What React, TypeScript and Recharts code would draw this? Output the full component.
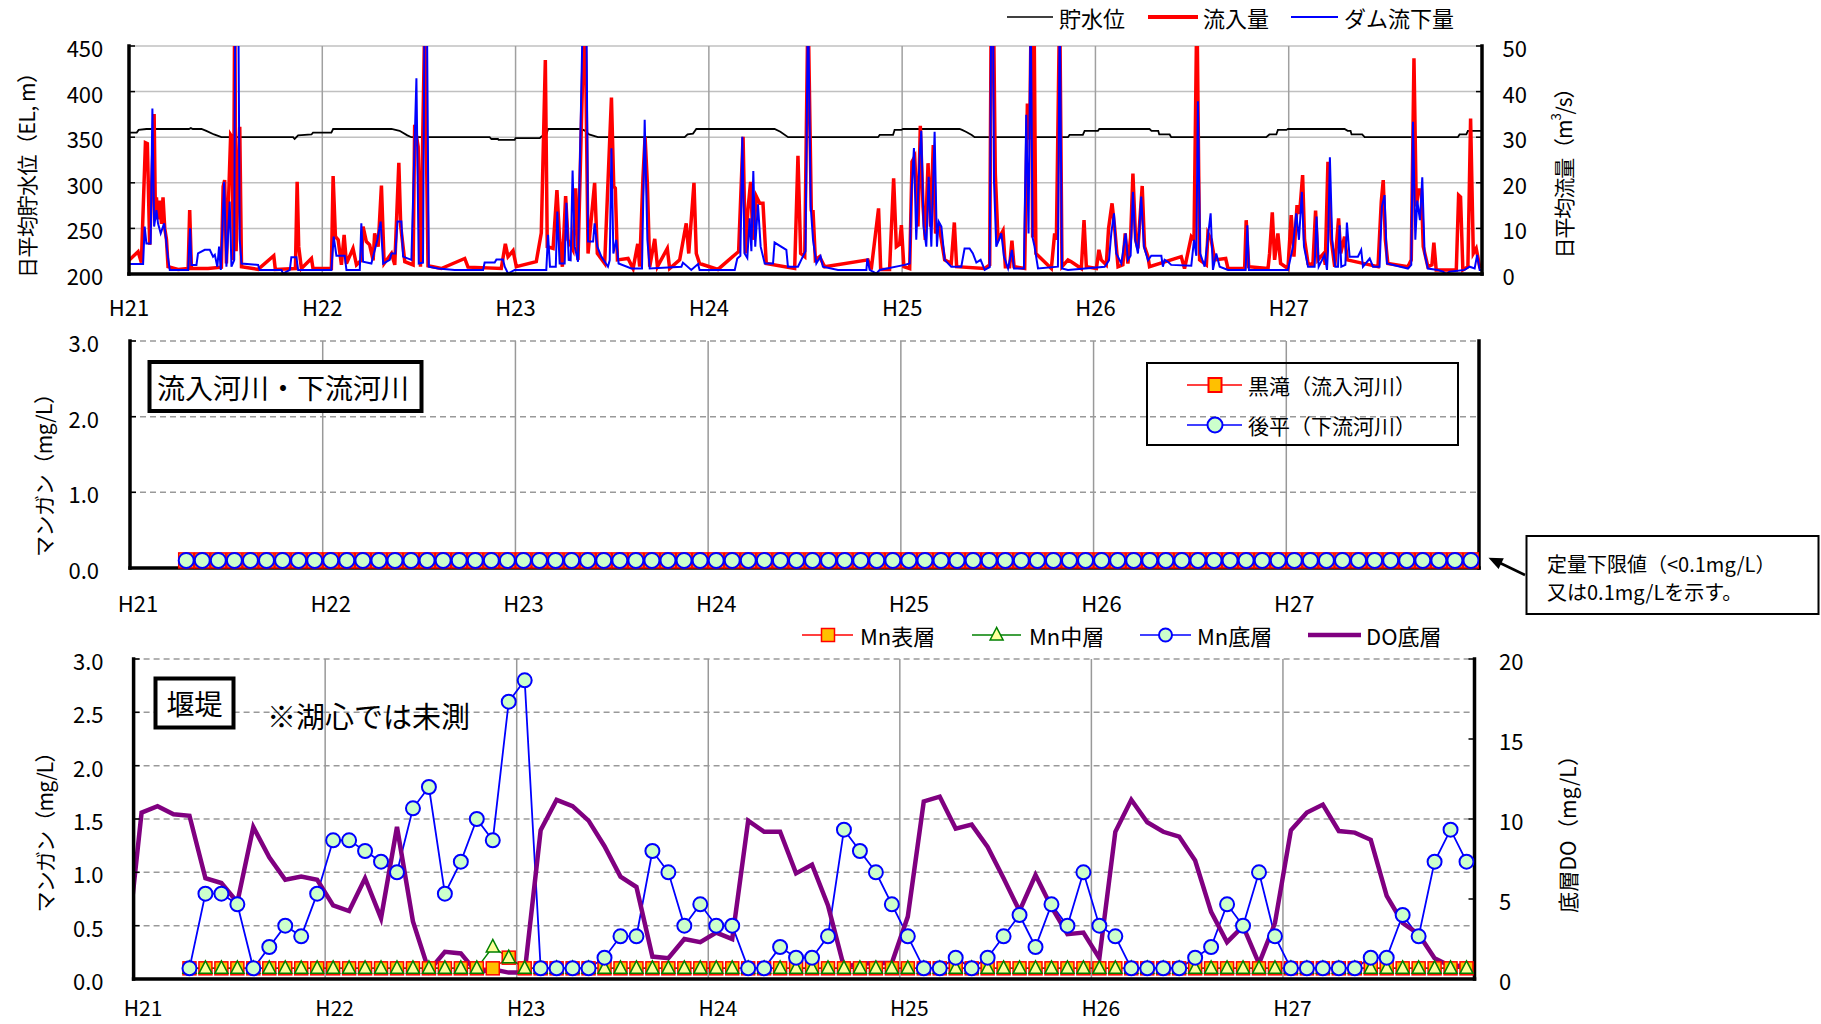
import { LineChart, Line, XAxis, YAxis, CartesianGrid } from "recharts";

const FONT = '"Noto Sans CJK JP", "Noto Sans", sans-serif';

// x axis: years since H21 (2009-01-01)
const yearTicks = [0, 1, 2, 3, 4, 5, 6];
const yearLabels = ["H21", "H22", "H23", "H24", "H25", "H26", "H27"];

const levelTicks = [200, 250, 300, 350, 400, 450];
const flowTicks = [0, 10, 20, 30, 40, 50];
const mnTicksMid = [0, 1, 2, 3];
const mnTicksLow = [0, 0.5, 1, 1.5, 2, 2.5, 3];
const doTicks = [0, 5, 10, 15, 20];

// 貯水位 (EL m) [year, value]
const reservoirLevel: [number, number][] = [
  [0, 355], [0.04, 355], [0.05, 358], [0.09, 359], [0.31, 359], [0.32, 360], [0.33, 359], [0.375, 359], [0.4, 357], [0.44, 353], [0.478, 350],
  [0.849, 350], [0.857, 348], [0.866, 350], [0.875, 352], [0.944, 353], [0.952, 355], [1.047, 355], [1.056, 359], [1.358, 359], [1.4, 357], [1.44, 352], [1.461, 350],
  [1.866, 350], [1.875, 348], [1.909, 348], [1.912, 347], [1.995, 347], [2.0, 349], [2.125, 349], [2.135, 351], [2.158, 352], [2.168, 359], [2.34, 359], [2.36, 357], [2.38, 353], [2.426, 350],
  [2.875, 350], [2.89, 353], [2.918, 354], [2.935, 359], [3.34, 359], [3.37, 356], [3.41, 350],
  [3.875, 350], [3.884, 352.5], [3.953, 352.5], [3.961, 358], [3.996, 358], [4.004, 359], [4.297, 359], [4.31, 358], [4.33, 356], [4.36, 352.5], [4.375, 350],
  [4.858, 350], [4.866, 352.5], [4.935, 352.5], [4.944, 357], [5.013, 357], [5.02, 359], [5.28, 359], [5.29, 357], [5.325, 357], [5.33, 353], [5.384, 353], [5.392, 350],
  [5.884, 350], [5.9, 353], [5.936, 353], [5.944, 358], [5.988, 358], [5.996, 359], [6.289, 359], [6.305, 357], [6.32, 357], [6.325, 353], [6.38, 353], [6.393, 350],
  [6.875, 350], [6.884, 353], [6.919, 353], [6.927, 357], [7.0, 357],
];

// 流入量 (m3/s) [year, value]
const inflowRate: [number, number][] = [
  [0, 3.0], [0.047, 4.9], [0.064, 2.5], [0.085, 28.8], [0.095, 28.6], [0.107, 6.4], [0.13, 35.1], [0.137, 12], [0.142, 16.8], [0.15, 12], [0.159, 16.1], [0.168, 11], [0.176, 16.8], [0.185, 10], [0.194, 7.5], [0.202, 1.6],
  [0.254, 1.0], [0.306, 1.2], [0.314, 14.0], [0.323, 1.2], [0.409, 1.2], [0.478, 1.5], [0.487, 19.2], [0.495, 20.6], [0.504, 2.3], [0.526, 30.5], [0.533, 30], [0.54, 3], [0.547, 60], [0.554, 5], [0.573, 32.3], [0.582, 1.6],
  [0.668, 1.0], [0.749, 4.0], [0.757, 1.0], [0.861, 1.2], [0.87, 20.2], [0.878, 6.0], [0.892, 1.2], [0.944, 3.4], [0.952, 1.2],
  [1.047, 1.2], [1.056, 21.5], [1.068, 8.2], [1.082, 7.5], [1.099, 2.0], [1.113, 8.6], [1.125, 2.3], [1.159, 5.6], [1.177, 2.0], [1.202, 3.0], [1.211, 10.4], [1.228, 7.1], [1.245, 6.4], [1.263, 3], [1.271, 8.9], [1.289, 6],
  [1.306, 19.4], [1.32, 2.3], [1.358, 4.5], [1.375, 2], [1.396, 24.4], [1.406, 10.4], [1.427, 2.7], [1.47, 2.0], [1.478, 32.7], [1.496, 27.9], [1.508, 1.6], [1.53, 55], [1.547, 1.8], [1.616, 1.2], [1.737, 3.4], [1.754, 1.5],
  [1.926, 1.2], [1.947, 6.6], [1.961, 3.8], [1.987, 5.1], [2.004, 1.6], [2.107, 2.7], [2.133, 9.0], [2.154, 46.9], [2.164, 6.0], [2.194, 5.6], [2.214, 18.4], [2.228, 7.5], [2.242, 1.6], [2.259, 17.1], [2.271, 7.5],
  [2.297, 5.3], [2.311, 18.8], [2.323, 3.1], [2.358, 62], [2.375, 4.5], [2.409, 20.0], [2.423, 4.5], [2.461, 2.3], [2.496, 38.7], [2.508, 19.2], [2.516, 18.8], [2.527, 3.1], [2.582, 3.4], [2.608, 1.2],
  [2.632, 6.6], [2.642, 1.6], [2.659, 21.0], [2.67, 30], [2.682, 19.7], [2.694, 1.6], [2.72, 7.7], [2.734, 1.6], [2.785, 5.6], [2.797, 1.2], [2.849, 3.1], [2.883, 11.1], [2.896, 4.5], [2.923, 20.0], [2.935, 4.5], [2.952, 2.3],
  [3.047, 1.0], [3.142, 4.5], [3.154, 4.9], [3.177, 30.1], [3.189, 4.5], [3.202, 14.0], [3.216, 20.2], [3.228, 7.5], [3.246, 17.0], [3.263, 15.5], [3.28, 15.5], [3.297, 2.3], [3.444, 1.2], [3.461, 25.9], [3.475, 4.5], [3.496, 3.8],
  [3.513, 60], [3.53, 14.0], [3.539, 13.8], [3.551, 3.1], [3.573, 3.8], [3.599, 1.6], [3.823, 3.1], [3.84, 1.0], [3.878, 14.4], [3.889, 1.0], [3.935, 1.0], [3.956, 21.0], [3.97, 6.0], [3.987, 6.5], [3.996, 10.7], [4.009, 1.6],
  [4.039, 1.2], [4.051, 24.6], [4.065, 25.7], [4.082, 10.4], [4.094, 32.5], [4.108, 14.8], [4.12, 7.5], [4.134, 24.3], [4.147, 10.4], [4.161, 28.3], [4.173, 8.9], [4.189, 11.0], [4.203, 7.5], [4.22, 3.1], [4.254, 2.3],
  [4.27, 11.3], [4.282, 1.6], [4.427, 1.2], [4.453, 2], [4.461, 60], [4.472, 60], [4.482, 22.0], [4.496, 7.5], [4.522, 9.5], [4.534, 1.6], [4.556, 1.6], [4.568, 7.3], [4.579, 1.6], [4.634, 1.2], [4.648, 37.4], [4.66, 29.5],
  [4.668, 60], [4.675, 8], [4.682, 60], [4.692, 4.5], [4.772, 1.2], [4.789, 8.9], [4.798, 7.5], [4.815, 60], [4.827, 1.6], [4.858, 3.1], [4.875, 2.7], [4.927, 1.2], [4.941, 11.8], [4.953, 1.6],
  [5.005, 1.2], [5.018, 5.3], [5.03, 3.1], [5.056, 2], [5.068, 10.0], [5.086, 15.5], [5.099, 10.4], [5.117, 1.6], [5.142, 2], [5.154, 8.9], [5.168, 2.3], [5.182, 8], [5.194, 22.0], [5.208, 7.5], [5.22, 5.6], [5.242, 19.3], [5.254, 6.0], [5.272, 3.8],
  [5.28, 1.6], [5.444, 3.8], [5.461, 1.2], [5.496, 8.2], [5.51, 7.5], [5.525, 60], [5.539, 3.1], [5.574, 2], [5.582, 8.9], [5.599, 7.5], [5.617, 3.1], [5.674, 3.4], [5.686, 1.2], [5.772, 1.2], [5.78, 11.8], [5.793, 1.6],
  [5.893, 1.2], [5.901, 4.5], [5.915, 13.5], [5.927, 3.1], [5.944, 8.9], [5.958, 2.3], [5.996, 1.2], [6.013, 12.9], [6.027, 3.8], [6.043, 15.1], [6.056, 13.2], [6.072, 21.7], [6.082, 7.5], [6.1, 2.3],
  [6.125, 2], [6.139, 13.9], [6.151, 3.1], [6.181, 4.5], [6.189, 2], [6.203, 24.6], [6.22, 7.5], [6.238, 1.6], [6.258, 12.2], [6.269, 4.5], [6.289, 8.2], [6.303, 3.1], [6.462, 1.6], [6.479, 15.9], [6.489, 20.6], [6.5, 7.5], [6.513, 2.3],
  [6.617, 1.6], [6.634, 3.1], [6.648, 47.3], [6.66, 14.8], [6.672, 18.4], [6.686, 18.4], [6.696, 6.0], [6.72, 1.6], [6.741, 2], [6.751, 6.9], [6.763, 0.9], [6.867, 0.9], [6.879, 17.3], [6.889, 16.9], [6.901, 0.9],
  [6.927, 1.6], [6.941, 34.1], [6.955, 4.5], [6.97, 5.6], [6.988, 1.6], [7.0, 1.6],
];

// ダム流下量 (m3/s) [year, value]
const damOutflow: [number, number][] = [
  [0, 2.2], [0.073, 2.2], [0.081, 10.4], [0.09, 6.7], [0.112, 6.7], [0.121, 36.3], [0.13, 10.4], [0.142, 14.0], [0.15, 11.1], [0.164, 8.9], [0.182, 11.1], [0.19, 8.2], [0.199, 4.5], [0.211, 0.9], [0.306, 0.9], [0.316, 10.0], [0.323, 2.0],
  [0.349, 2.0], [0.357, 4.5], [0.392, 5.3], [0.418, 5.3], [0.435, 3.8], [0.444, 4.2], [0.457, 1.6], [0.466, 6.0], [0.475, 0.9], [0.492, 20.2], [0.504, 1.6], [0.521, 15.9], [0.53, 1.6], [0.544, 3], [0.551, 70], [0.564, 70], [0.573, 7.5], [0.582, 2.3],
  [0.668, 2.0], [0.676, 0.9], [0.789, 0.9], [0.797, 0.1], [0.832, 0.9], [0.84, 3.7], [0.866, 3.7], [0.875, 0.9], [1.047, 0.9], [1.059, 8.2], [1.073, 4.0], [1.116, 4.0], [1.125, 0.9], [1.194, 0.9], [1.202, 11.1], [1.211, 2.7],
  [1.254, 2.3], [1.285, 7.5], [1.302, 11.5], [1.315, 2.3], [1.349, 3.1], [1.358, 4.5], [1.378, 4.5], [1.389, 11.5], [1.409, 11.5], [1.418, 3.8], [1.461, 3.1], [1.487, 42.9], [1.499, 2.3], [1.521, 2.5], [1.53, 65], [1.54, 65], [1.551, 1.6], [1.599, 1.2], [1.685, 0.9],
  [1.832, 0.9], [1.84, 2.5], [1.892, 2.5], [1.901, 3.2], [1.935, 3.2], [1.944, 1.6], [1.961, 0.1], [1.995, 0.9], [2.159, 0.9], [2.168, 8.6], [2.178, 1.6], [2.208, 1.6], [2.216, 13.7], [2.228, 2.3], [2.254, 2.3], [2.263, 15.6], [2.275, 3.1],
  [2.285, 3], [2.295, 22.7], [2.306, 6.0], [2.323, 2.7], [2.349, 60], [2.366, 60], [2.375, 7.1], [2.401, 7.1], [2.409, 11.1], [2.423, 6.0], [2.444, 3.8], [2.478, 1.6], [2.487, 3], [2.496, 27.6], [2.506, 4.5], [2.521, 7.5], [2.533, 2.3],
  [2.599, 1.2], [2.654, 1.2], [2.668, 33.8], [2.682, 7.5], [2.694, 1.2], [2.858, 1.6], [2.866, 2.5], [2.909, 0.9], [2.944, 2.2], [2.952, 0.9], [3.134, 0.9], [3.147, 3.4], [3.163, 4], [3.173, 30.1], [3.185, 4.5], [3.199, 3.5],
  [3.211, 12.2], [3.22, 5], [3.23, 22.6], [3.24, 6.0], [3.254, 15.3], [3.268, 6.0], [3.289, 2.3], [3.332, 2.3], [3.34, 6.9], [3.401, 5.3], [3.409, 1.6], [3.461, 1.6], [3.478, 3.1], [3.5, 5],
  [3.513, 60], [3.527, 14.8], [3.539, 7.5], [3.556, 2.3], [3.578, 3.9], [3.59, 1.6], [3.668, 0.9], [3.815, 0.9], [3.82, 3.4], [3.832, 0.9], [3.867, 0.1], [3.884, 0.9], [4.013, 2.0], [4.039, 2.3], [4.047, 16.6], [4.061, 27.6],
  [4.073, 7.5], [4.091, 26.1], [4.099, 31.4], [4.111, 10.4], [4.125, 6], [4.137, 21.3], [4.151, 6.0], [4.168, 31.2], [4.18, 6.0], [4.189, 11.5], [4.203, 10.4], [4.22, 3.1], [4.254, 1.6], [4.306, 1.6], [4.323, 5.6], [4.349, 5.6],
  [4.366, 4.5], [4.384, 2.5], [4.406, 3.1], [4.427, 0.9], [4.453, 1.5], [4.461, 60], [4.47, 60], [4.475, 20.6], [4.487, 6.0], [4.513, 8.9], [4.527, 3.8], [4.548, 1.2], [4.568, 5.3], [4.579, 1.2], [4.63, 1.2], [4.642, 34.9],
  [4.654, 8.9], [4.665, 60], [4.675, 8], [4.685, 6.0], [4.703, 1.2], [4.806, 1.6], [4.815, 60], [4.827, 1.2], [4.858, 0.9], [5.048, 1.6], [5.07, 3], [5.082, 8.9], [5.096, 13.3], [5.108, 4.5], [5.134, 2.3], [5.156, 8.9],
  [5.168, 3.1], [5.182, 4], [5.194, 18.0], [5.206, 7.5], [5.22, 4.5], [5.237, 17.0], [5.251, 6.0], [5.272, 3],
  [5.289, 4.0], [5.341, 4.0], [5.349, 1.6], [5.358, 3.1], [5.375, 2.7], [5.392, 2.0], [5.496, 1.8], [5.51, 7.5], [5.522, 4], [5.53, 37.9], [5.542, 4.5], [5.565, 1.6], [5.586, 9.6], [5.596, 13.3], [5.608, 0.9], [5.625, 4.5],
  [5.643, 1.6], [5.686, 0.9], [5.777, 0.9], [5.786, 10.7], [5.794, 0.9], [5.996, 0.9], [6.022, 6.0], [6.039, 13.3], [6.053, 7.5], [6.068, 18.0], [6.079, 6.0], [6.1, 1.6], [6.134, 1.6], [6.144, 12.6], [6.155, 1.6],
  [6.186, 4.2], [6.198, 0.9], [6.203, 5], [6.213, 25.6], [6.225, 7.5], [6.241, 1.6], [6.255, 1.6], [6.263, 10.7], [6.272, 1.6], [6.293, 2], [6.301, 11.3], [6.315, 3.8], [6.358, 3.8], [6.375, 5.3], [6.384, 1.6], [6.419, 3.4],
  [6.436, 1.6], [6.47, 1.6], [6.482, 14.8], [6.496, 17.3], [6.508, 2.3], [6.617, 1.2], [6.634, 2], [6.643, 33.4], [6.655, 7.5], [6.665, 16.1], [6.679, 11.8], [6.691, 21.2], [6.703, 4.5], [6.72, 1.2], [6.772, 0.9],
  [6.798, 0.5], [6.815, 0], [6.832, 0.5], [6.91, 0.9], [6.936, 1.6], [6.962, 1.2], [6.975, 4.2], [6.988, 0.9], [7.0, 0.9],
];

// monthly Mn (mg/L), 2009-04 .. 2015-12
const MN_START: [number, number] = [2009, 4];
const kurotakiMn = [
  0.1, 0.1, 0.1, 0.1, 0.1, 0.1, 0.1, 0.1, 0.1,
  0.1, 0.1, 0.1, 0.1, 0.1, 0.1, 0.1, 0.1, 0.1, 0.1, 0.1, 0.1,
  0.1, 0.1, 0.1, 0.1, 0.1, 0.1, 0.1, 0.1, 0.1, 0.1, 0.1, 0.1,
  0.1, 0.1, 0.1, 0.1, 0.1, 0.1, 0.1, 0.1, 0.1, 0.1, 0.1, 0.1,
  0.1, 0.1, 0.1, 0.1, 0.1, 0.1, 0.1, 0.1, 0.1, 0.1, 0.1, 0.1,
  0.1, 0.1, 0.1, 0.1, 0.1, 0.1, 0.1, 0.1, 0.1, 0.1, 0.1, 0.1,
  0.1, 0.1, 0.1, 0.1, 0.1, 0.1, 0.1, 0.1, 0.1, 0.1, 0.1, 0.1,
];
const gohiraMn = [
  0.1, 0.1, 0.1, 0.1, 0.1, 0.1, 0.1, 0.1, 0.1,
  0.1, 0.1, 0.1, 0.1, 0.1, 0.1, 0.1, 0.1, 0.1, 0.1, 0.1, 0.1,
  0.1, 0.1, 0.1, 0.1, 0.1, 0.1, 0.1, 0.1, 0.1, 0.1, 0.1, 0.1,
  0.1, 0.1, 0.1, 0.1, 0.1, 0.1, 0.1, 0.1, 0.1, 0.1, 0.1, 0.1,
  0.1, 0.1, 0.1, 0.1, 0.1, 0.1, 0.1, 0.1, 0.1, 0.1, 0.1, 0.1,
  0.1, 0.1, 0.1, 0.1, 0.1, 0.1, 0.1, 0.1, 0.1, 0.1, 0.1, 0.1,
  0.1, 0.1, 0.1, 0.1, 0.1, 0.1, 0.1, 0.1, 0.1, 0.1, 0.1, 0.1,
];
const mnSurface = [
  0.1, 0.1, 0.1, 0.1, 0.1, 0.1, 0.1, 0.1, 0.1,
  0.1, 0.1, 0.1, 0.1, 0.1, 0.1, 0.1, 0.1, 0.1, 0.1, 0.1, 0.2,
  0.1, 0.1, 0.1, 0.1, 0.1, 0.1, 0.1, 0.1, 0.1, 0.1, 0.1, 0.1,
  0.1, 0.1, 0.1, 0.1, 0.1, 0.1, 0.1, 0.1, 0.1, 0.1, 0.1, 0.1,
  0.1, 0.1, 0.1, 0.1, 0.1, 0.1, 0.1, 0.1, 0.1, 0.1, 0.1, 0.1,
  0.1, 0.1, 0.1, 0.1, 0.1, 0.1, 0.1, 0.1, 0.1, 0.1, 0.1, 0.1,
  0.1, 0.1, 0.1, 0.1, 0.1, 0.1, 0.1, 0.1, 0.1, 0.1, 0.1, 0.1,
];
const mnMiddle = [
  0.1, 0.1, 0.1, 0.1, 0.1, 0.1, 0.1, 0.1, 0.1,
  0.1, 0.1, 0.1, 0.1, 0.1, 0.1, 0.1, 0.1, 0.1, 0.1, 0.3, 0.2,
  0.1, 0.1, 0.1, 0.1, 0.1, 0.1, 0.1, 0.1, 0.1, 0.1, 0.1, 0.1,
  0.1, 0.1, 0.1, 0.1, 0.1, 0.1, 0.1, 0.1, 0.1, 0.1, 0.1, 0.1,
  0.1, 0.1, 0.1, 0.1, 0.1, 0.1, 0.1, 0.1, 0.1, 0.1, 0.1, 0.1,
  0.1, 0.1, 0.1, 0.1, 0.1, 0.1, 0.1, 0.1, 0.1, 0.1, 0.1, 0.1,
  0.1, 0.1, 0.1, 0.1, 0.1, 0.1, 0.1, 0.1, 0.1, 0.1, 0.1, 0.1,
];
const mnBottom = [
  0.1, 0.8, 0.8, 0.7, 0.1, 0.3, 0.5, 0.4, 0.8,
  1.3, 1.3, 1.2, 1.1, 1.0, 1.6, 1.8, 0.8, 1.1, 1.5, 1.3, 2.6,
  2.8, 0.1, 0.1, 0.1, 0.1, 0.2, 0.4, 0.4, 1.2, 1.0, 0.5, 0.7,
  0.5, 0.5, 0.1, 0.1, 0.3, 0.2, 0.2, 0.4, 1.4, 1.2, 1.0, 0.7,
  0.4, 0.1, 0.1, 0.2, 0.1, 0.2, 0.4, 0.6, 0.3, 0.7, 0.5, 1.0,
  0.5, 0.4, 0.1, 0.1, 0.1, 0.1, 0.2, 0.3, 0.7, 0.5, 1.0, 0.4,
  0.1, 0.1, 0.1, 0.1, 0.1, 0.2, 0.2, 0.6, 0.4, 1.1, 1.4, 1.1,
];
// 底層DO (mg/L), 2008-12 .. 2015-12
const DO_START: [number, number] = [2008, 12];
const doBottom = [
  1.1,
  10.4, 10.8, 10.3, 10.2, 6.3, 6.0, 4.8, 9.5, 7.6, 6.2, 6.4, 6.2,
  4.6, 4.25, 6.3, 3.8, 9.5, 3.6, 0.5, 1.7, 1.6, 0.4, 0.6, 0.4,
  0.4, 9.3, 11.2, 10.8, 9.9, 8.3, 6.4, 5.75, 1.4, 1.3, 2.5, 2.3,
  2.9, 2.5, 9.9, 9.2, 9.2, 6.6, 7.15, 4.6, 0.75, 0.96, 1.0, 1.0,
  3.9, 11.1, 11.4, 9.4, 9.65, 8.25, 6.3, 4.25, 6.5, 4.5, 2.8, 2.9,
  1.3, 9.2, 11.2, 9.8, 9.2, 8.9, 7.4, 4.2, 2.3, 3.3, 0.96, 3.5,
  9.3, 10.4, 10.9, 9.25, 9.15, 8.7, 5.2, 3.5, 2.8, 1.3, 0.8, 0.85,
];

const pairs = (d: [number, number][]) => d.map(([t, v]) => ({ t, v }));
const monthly = (start: [number, number], vals: number[]) =>
  vals.map((v, i) => ({ t: start[0] - 2009 + (start[1] + i - 0.5) / 12, v }));

const RED = "#FF0000";
const BLUE = "#0000FF";
const GREEN = "#008000";
const PURPLE = "#800080";
const ORANGE = "#FFC000";
const MINT = "#CCFFCC";
const LEMON = "#FFFF99";
const BORDER = { stroke: "#000", strokeWidth: 3.5, strokeLinecap: "square" as const };
const YTICKLINE = { stroke: "#000", strokeWidth: 1.5 };

function tickText(anchor: "start" | "middle" | "end", dx: number, dy: number, fmt: (v: number) => string, size = 22) {
  return (p: any) => (
    <text
      key={`tk-${p.index}`}
      x={p.x + dx}
      y={p.y + dy}
      textAnchor={anchor}
      dominantBaseline="central"
      fontSize={size}
      fontFamily={FONT}
      fill="#000"
    >
      {fmt(p.payload.value)}
    </text>
  );
}
const yearFmt = (v: number) => yearLabels[v] ?? "";

function squareDot(size: number) {
  return (p: any) => {
    if (p.cx == null || p.cy == null) return <g key={`sq-${p.index}`} />;
    return (
      <rect key={`sq-${p.index}`} x={p.cx - size / 2} y={p.cy - size / 2} width={size} height={size} fill={ORANGE} stroke={RED} strokeWidth={1.5} />
    );
  };
}
function circleDot(r: number) {
  return (p: any) => {
    if (p.cx == null || p.cy == null) return <g key={`ci-${p.index}`} />;
    return <circle key={`ci-${p.index}`} cx={p.cx} cy={p.cy} r={r} fill={MINT} stroke={BLUE} strokeWidth={2} />;
  };
}
function triangleDot(p: any) {
  if (p.cx == null || p.cy == null) return <g key={`tr-${p.index}`} />;
  const { cx, cy } = p;
  return (
    <polygon key={`tr-${p.index}`} points={`${cx},${cy - 7.5} ${cx - 6.5},${cy + 5} ${cx + 6.5},${cy + 5}`} fill={LEMON} stroke={GREEN} strokeWidth={1.5} />
  );
}

function VTitle(props: { x: number; y: number; len: number; children: any }) {
  return (
    <text
      transform={`translate(${props.x},${props.y}) rotate(-90)`}
      textAnchor="middle"
      dominantBaseline="central"
      fontSize={21}
      fontFamily={FONT}
      textLength={props.len}
      lengthAdjust="spacing"
    >
      {props.children}
    </text>
  );
}

function LegendText(props: { x: number; y: number; children: any; size?: number }) {
  return (
    <text x={props.x} y={props.y} dominantBaseline="central" fontSize={props.size ?? 22} fontFamily={FONT} fill="#000">
      {props.children}
    </text>
  );
}

function TopPanel() {
  return (
    <LineChart width={1821} height={330} margin={{ top: 46, right: 279, bottom: 26, left: 69 }}>
      <CartesianGrid vertical={false} stroke="#C0C0C0" strokeWidth={1.5} />
      <CartesianGrid horizontal={false} stroke="#A0A0A0" strokeWidth={1.5} />
      <XAxis type="number" dataKey="t" domain={[0, 7]} ticks={yearTicks} interval={0} allowDataOverflow height={30}
        axisLine={BORDER} tickLine={false} tickSize={0} tickMargin={0} tick={tickText("middle", 0, 32, yearFmt)} />
      <XAxis xAxisId="top" orientation="top" type="number" domain={[0, 7]} height={0} tick={false} tickLine={false} axisLine={BORDER} />
      <YAxis type="number" domain={[200, 450]} ticks={levelTicks} interval={0} width={60}
        axisLine={BORDER} tickLine={YTICKLINE} tickSize={-6} tickMargin={0} tick={tickText("end", -31.7, 1, (v) => String(v))} />
      <YAxis yAxisId="flow" orientation="right" type="number" domain={[0, 50]} ticks={flowTicks} interval={0} width={60} allowDataOverflow
        axisLine={BORDER} tickLine={YTICKLINE} tickSize={-6} tickMargin={0} tick={tickText("start", 26.6, 1, (v) => String(v))} />
      <Line data={pairs(reservoirLevel)} dataKey="v" type="linear" stroke="#000" strokeWidth={1.8} dot={false} isAnimationActive={false} />
      <Line yAxisId="flow" data={pairs(inflowRate)} dataKey="v" type="linear" stroke={RED} strokeWidth={3.5} dot={false} isAnimationActive={false} />
      <Line yAxisId="flow" data={pairs(damOutflow)} dataKey="v" type="linear" stroke={BLUE} strokeWidth={2} dot={false} isAnimationActive={false} />
    </LineChart>
  );
}

function MiddlePanel() {
  return (
    <LineChart width={1821} height={320} margin={{ top: 41, right: 332, bottom: 22, left: 70 }}>
      <CartesianGrid vertical={false} stroke="#999" strokeWidth={1.5} strokeDasharray="6 4" />
      <CartesianGrid horizontal={false} stroke="#999" strokeWidth={1.5} />
      <XAxis type="number" dataKey="t" domain={[0, 7]} ticks={yearTicks} interval={0} allowDataOverflow height={30}
        axisLine={BORDER} tickLine={false} tickSize={0} tickMargin={0} tick={tickText("middle", 8, 34, yearFmt)} />
      <XAxis xAxisId="top" orientation="top" type="number" domain={[0, 7]} height={0} tick={false} tickLine={false} axisLine={BORDER} />
      <YAxis type="number" domain={[0, 3]} ticks={mnTicksMid} interval={0} width={60}
        axisLine={BORDER} tickLine={YTICKLINE} tickSize={-6} tickMargin={0} tick={tickText("end", -37, 1, (v) => v.toFixed(1))} />
      <YAxis yAxisId="r" orientation="right" type="number" domain={[0, 3]} width={10} tick={false} tickLine={false} axisLine={BORDER} />
      <Line data={monthly(MN_START, kurotakiMn)} dataKey="v" stroke={RED} strokeWidth={1.5} dot={squareDot(15)} isAnimationActive={false} />
      <Line data={monthly(MN_START, gohiraMn)} dataKey="v" stroke={BLUE} strokeWidth={1.5} dot={circleDot(7.5)} isAnimationActive={false} />
    </LineChart>
  );
}

function BottomPanel() {
  return (
    <LineChart width={1821} height={404} margin={{ top: 39, right: 286.5, bottom: 15, left: 73.6 }}>
      <CartesianGrid vertical={false} stroke="#999" strokeWidth={1.5} strokeDasharray="6 4" />
      <CartesianGrid horizontal={false} stroke="#999" strokeWidth={1.5} />
      <XAxis type="number" dataKey="t" domain={[0, 7]} ticks={yearTicks} interval={0} allowDataOverflow height={30}
        axisLine={BORDER} tickLine={false} tickSize={0} tickMargin={0} tick={tickText("middle", 9.5, 28, yearFmt, 21)} />
      <XAxis xAxisId="top" orientation="top" type="number" domain={[0, 7]} height={0} tick={false} tickLine={false} axisLine={BORDER} />
      <YAxis type="number" domain={[0, 3]} ticks={mnTicksLow} interval={0} width={60}
        axisLine={BORDER} tickLine={YTICKLINE} tickSize={-6} tickMargin={0} tick={tickText("end", -36, 1, (v) => v.toFixed(1))} />
      <YAxis yAxisId="do" orientation="right" type="number" domain={[0, 20]} ticks={doTicks} interval={0} width={60}
        axisLine={BORDER} tickLine={YTICKLINE} tickSize={-6} tickMargin={0} tick={tickText("start", 30.5, 1, (v) => String(v))} />
      <Line data={monthly(MN_START, mnSurface)} dataKey="v" stroke={RED} strokeWidth={1.5} dot={squareDot(13)} isAnimationActive={false} />
      <Line data={monthly(MN_START, mnMiddle)} dataKey="v" stroke={GREEN} strokeWidth={1.5} dot={triangleDot} isAnimationActive={false} />
      <Line data={monthly(MN_START, mnBottom)} dataKey="v" stroke={BLUE} strokeWidth={1.8} dot={circleDot(7)} isAnimationActive={false} />
      <Line yAxisId="do" data={monthly(DO_START, doBottom)} dataKey="v" stroke={PURPLE} strokeWidth={4.5} dot={false} isAnimationActive={false} />
    </LineChart>
  );
}

function Overlay() {
  return (
    <svg width={1821} height={1024} style={{ position: "absolute", left: 0, top: 0, pointerEvents: "none" }}>
      {/* top legend */}
      <line x1={1007} y1={17} x2={1053} y2={17} stroke="#000" strokeWidth={1.5} />
      <LegendText x={1059} y={17}>貯水位</LegendText>
      <line x1={1148} y1={17} x2={1198} y2={17} stroke={RED} strokeWidth={4} />
      <LegendText x={1203} y={17}>流入量</LegendText>
      <line x1={1291} y1={17} x2={1338} y2={17} stroke={BLUE} strokeWidth={2} />
      <LegendText x={1344} y={17}>ダム流下量</LegendText>

      {/* axis titles */}
      <VTitle x={26} y={170} len={216}>日平均貯水位（EL, m）</VTitle>
      <VTitle x={1563} y={168} len={181}>
        日平均流量（m<tspan fontSize={13} dy={-8}>3</tspan>
        <tspan dy={8}>/s）</tspan>
      </VTitle>
      <VTitle x={43} y={470} len={174}>マンガン（mg/L）</VTitle>
      <VTitle x={43.5} y={827} len={171}>マンガン（mg/L）</VTitle>
      <VTitle x={1567} y={829} len={168}>底層DO（mg/L）</VTitle>

      {/* middle panel labels */}
      <rect x={149.5} y={362} width={272} height={49} fill="#fff" stroke="#000" strokeWidth={4} />
      <text x={157} y={387} dominantBaseline="central" fontSize={28} fontFamily={FONT}>流入河川・下流河川</text>
      <rect x={1147} y={363} width={311} height={82} fill="none" stroke="#000" strokeWidth={2} />
      <line x1={1187} y1={385} x2={1242} y2={385} stroke={RED} strokeWidth={1.5} />
      <rect x={1208.5} y={378} width={13} height={14} fill={ORANGE} stroke={RED} strokeWidth={2} />
      <LegendText x={1248} y={385} size={21}>黒滝（流入河川）</LegendText>
      <line x1={1187} y1={425} x2={1242} y2={425} stroke={BLUE} strokeWidth={1.5} />
      <circle cx={1215} cy={425} r={7.5} fill={MINT} stroke={BLUE} strokeWidth={2} />
      <LegendText x={1248} y={425} size={21}>後平（下流河川）</LegendText>

      {/* lower-limit note */}
      <rect x={1526.5} y={536} width={292} height={78} fill="#fff" stroke="#000" strokeWidth={2} />
      <LegendText x={1547} y={563} size={20}>定量下限値（&lt;0.1mg/L）</LegendText>
      <LegendText x={1547} y={591} size={20}>又は0.1mg/Lを示す。</LegendText>
      <line x1={1525} y1={575} x2={1498} y2={562} stroke="#000" strokeWidth={2.5} />
      <polygon points="1488.5,557.7 1498.6,569.1 1503.8,558.3" fill="#000" />

      {/* bottom legend */}
      <line x1={802} y1={635} x2={853} y2={635} stroke={RED} strokeWidth={1.5} />
      <rect x={821.5} y={628.5} width={13} height={13} fill={ORANGE} stroke={RED} strokeWidth={1.5} />
      <LegendText x={860} y={635}>Mn表層</LegendText>
      <line x1={972} y1={635} x2={1021} y2={635} stroke={GREEN} strokeWidth={1.5} />
      <polygon points="996.6,627.5 990.1,640 1003.1,640" fill={LEMON} stroke={GREEN} strokeWidth={1.5} />
      <LegendText x={1029} y={635}>Mn中層</LegendText>
      <line x1={1140} y1={635} x2={1191} y2={635} stroke={BLUE} strokeWidth={1.5} />
      <circle cx={1165.5} cy={635} r={6.5} fill={MINT} stroke={BLUE} strokeWidth={2} />
      <LegendText x={1197} y={635}>Mn底層</LegendText>
      <line x1={1308} y1={635} x2={1361} y2={635} stroke={PURPLE} strokeWidth={4.5} />
      <LegendText x={1366} y={635}>DO底層</LegendText>

      {/* bottom panel labels */}
      <rect x={155.5} y={678.5} width={78} height={49} fill="#fff" stroke="#000" strokeWidth={4} />
      <text x={194.5} y={703} textAnchor="middle" dominantBaseline="central" fontSize={28} fontFamily={FONT}>堰堤</text>
      <text x={267} y={715} dominantBaseline="central" fontSize={29} fontFamily={FONT}>※湖心では未測</text>
    </svg>
  );
}

export default function App() {
  return (
    <div style={{ position: "absolute", left: 0, top: 0, width: 1821, height: 1024, background: "#fff", fontFamily: FONT }}>
      <div style={{ position: "absolute", left: 0, top: 0 }}>
        <TopPanel />
      </div>
      <div style={{ position: "absolute", left: 0, top: 300 }}>
        <MiddlePanel />
      </div>
      <div style={{ position: "absolute", left: 0, top: 620 }}>
        <BottomPanel />
      </div>
      <Overlay />
    </div>
  );
}
